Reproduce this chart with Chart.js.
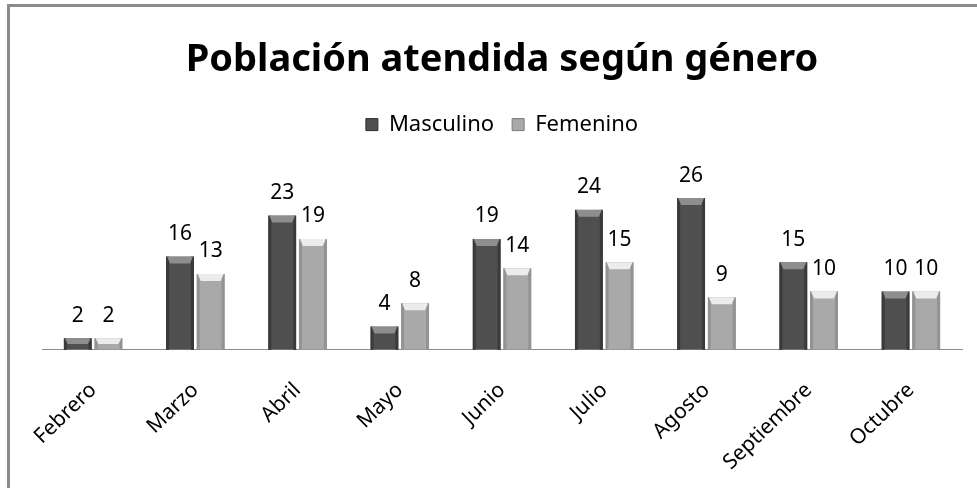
<!DOCTYPE html>
<html lang="es">
<head>
  <meta charset="UTF-8">
  <title>Población atendida según género</title>
  <script src="https://cdn.jsdelivr.net/npm/chart.js"></script>
  <style>
    html, body { margin: 0; padding: 0; background: #fff; overflow: hidden; }
    #wrap { position: relative; width: 977px; height: 488px; }
    #frame { position: absolute; left: 7px; top: 4px; width: 990px; height: 500px;
             border-top: 3px solid #8c8c8c; border-left: 3px solid #8c8c8c; }
    canvas { position: absolute; left: 0; top: 0; }
  </style>
</head>
<body>
  <div id="wrap">
    <div id="frame"></div>
    <canvas id="generoChart" width="977" height="488"></canvas>
  </div>

  <script>
    const meses = ['Febrero', 'Marzo', 'Abril', 'Mayo', 'Junio', 'Julio', 'Agosto', 'Septiembre', 'Octubre'];
    const masculino = [2, 16, 23, 4, 19, 24, 26, 15, 10];
    const femenino = [2, 13, 19, 8, 14, 15, 9, 10, 10];

    const fuente = "'Noto Sans', 'DejaVu Sans', sans-serif";

    // Efecto de bisel sobre cada barra y valores encima
    const biselPlugin = {
      id: 'bisel',
      afterDatasetsDraw(chart) {
        const ctx = chart.ctx;
        chart.data.datasets.forEach((ds, i) => {
          const meta = chart.getDatasetMeta(i);
          meta.data.forEach((bar, j) => {
            const left = bar.x - bar.width / 2;
            const right = bar.x + bar.width / 2;
            const top = bar.y;
            const base = bar.base;
            const d = Math.min(7, (base - top) / 2);
            ctx.save();
            // lados oscuros
            ctx.fillStyle = ds.sideColor;
            ctx.fillRect(left, top, 3, base - top);
            ctx.fillRect(right - 3, top, 3, base - top);
            // parte superior clara
            ctx.fillStyle = ds.topColor;
            ctx.beginPath();
            ctx.moveTo(left + 1, top);
            ctx.lineTo(right - 1, top);
            ctx.lineTo(right - 4, top + d);
            ctx.lineTo(left + 4, top + d);
            ctx.closePath();
            ctx.fill();
            // valor
            ctx.fillStyle = '#000';
            ctx.font = "21px " + fuente;
            ctx.textAlign = 'center';
            ctx.textBaseline = 'bottom';
            ctx.fillText(ds.data[j], bar.x, top - 12);
            ctx.restore();
          });
        });
      }
    };

    const ctx = document.getElementById('generoChart').getContext('2d');
    new Chart(ctx, {
      type: 'bar',
      data: {
        labels: meses,
        datasets: [
          {
            label: 'Masculino',
            data: masculino,
            backgroundColor: '#4f4f4f',
            borderColor: '#2e2e2e',
            borderWidth: 1,
            sideColor: '#3a3a3a',
            topColor: '#8e8e8e'
          },
          {
            label: 'Femenino',
            data: femenino,
            backgroundColor: '#a9a9a9',
            borderColor: '#7a7a7a',
            borderWidth: 1,
            sideColor: '#939393',
            topColor: '#ececec'
          }
        ]
      },
      options: {
        responsive: false,
        animation: false,
        layout: { padding: { top: 37, left: 42, right: 15, bottom: -7 } },
        datasets: {
          bar: { categoryPercentage: 0.6, barPercentage: 0.91 }
        },
        plugins: {
          title: {
            display: true,
            text: 'Población atendida según género',
            color: '#000',
            font: { family: fuente, size: 38, weight: 'bold' },
            padding: { top: 0, bottom: 13 }
          },
          legend: {
            display: true,
            labels: {
              color: '#000',
              font: { family: fuente, size: 22 },
              boxWidth: 12,
              boxHeight: 12,
              padding: 18
            }
          },
          tooltip: { enabled: false }
        },
        scales: {
          x: {
            grid: { display: false },
            border: { display: true, color: '#8c8c8c', width: 1 },
            ticks: {
              color: '#000',
              font: { family: fuente, size: 21 },
              minRotation: 44,
              maxRotation: 44,
              padding: 20
            }
          },
          y: {
            display: false,
            min: 0,
            max: 35
          }
        }
      },
      plugins: [biselPlugin]
    });
  </script>
</body>
</html>
